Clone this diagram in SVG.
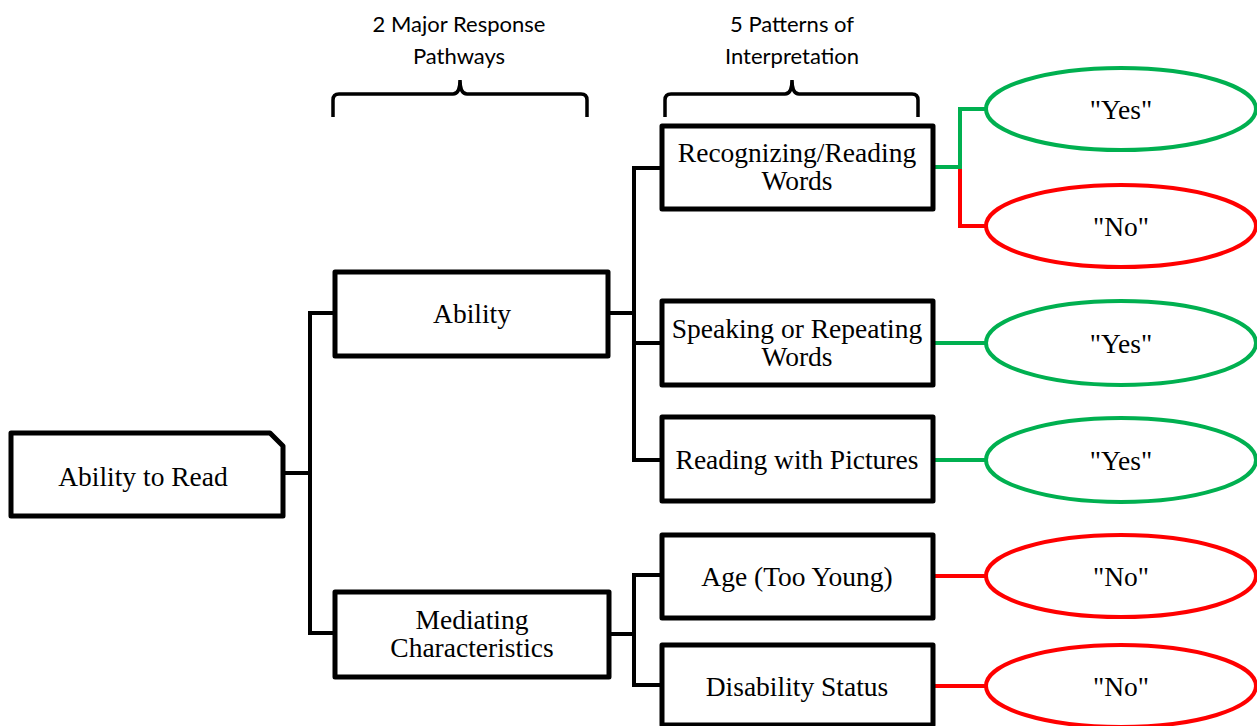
<svg xmlns="http://www.w3.org/2000/svg" width="1257" height="726" viewBox="0 0 1257 726">
<style>
.box{fill:#fff;stroke:#000;stroke-width:5;stroke-linejoin:round}
.t{font-family:"Liberation Serif","Times New Roman",serif;font-size:27.5px;fill:#000;text-anchor:middle}
.h{font-family:Lato,"Liberation Sans",sans-serif;font-size:22px;fill:#000;text-anchor:middle}
.k{fill:none;stroke:#000;stroke-width:4}
.g{fill:none;stroke:#00B050;stroke-width:4}
.r{fill:none;stroke:#FF0000;stroke-width:4}
.eg{fill:#fff;stroke:#00B050;stroke-width:4}
.er{fill:#fff;stroke:#FF0000;stroke-width:4}
.br{fill:none;stroke:#000;stroke-width:3.5}
</style>
<rect width="1257" height="726" fill="#fff"/>
<g id="headers">
<text class="h" x="459" y="32">2 Major Response</text>
<text class="h" x="459" y="64">Pathways</text>
<text class="h" x="792" y="32">5 Patterns of</text>
<text class="h" x="792" y="64">Interpretation</text>
<path class="br" d="M333,117 V100 Q333,94 339,94 H453 Q460,94 460,80 Q460,94 467,94 H581 Q587,94 587,100 V117"/>
<path class="br" d="M665,117 V100 Q665,94 671,94 H785 Q792,94 792,80 Q792,94 799,94 H912 Q918,94 918,100 V117"/>
</g>
<g id="connectors">
<path class="k" d="M283,473 H310"/>
<path class="k" d="M335,313 H310 V633 H335"/>
<path class="k" d="M608,313 H634"/>
<path class="k" d="M662,168 H634 V460 H662 M634,343 H662"/>
<path class="k" d="M609,634 H634"/>
<path class="k" d="M662,575 H634 V685 H662"/>
<path class="r" d="M960,167 V226 H986"/>
<path class="g" d="M933,167 H960 V109 H986"/>
<path class="g" d="M933,343 H986"/>
<path class="g" d="M933,460 H986"/>
<path class="r" d="M933,576 H986"/>
<path class="r" d="M933,686 H986"/>
</g>
<g id="root">
<path class="box" d="M11,433 H270 L283,446 V516 H11 Z"/>
<text class="t" x="143" y="486">Ability to Read</text>
</g>
<g id="ability">
<rect class="box" x="335" y="272" width="273" height="84"/>
<text class="t" x="472" y="323">Ability</text>
</g>
<g id="mediating">
<rect class="box" x="335" y="592" width="274" height="85"/>
<text class="t" x="472" y="629">Mediating</text>
<text class="t" x="472" y="657">Characteristics</text>
</g>
<g id="recognizing">
<rect class="box" x="662" y="126" width="271" height="83"/>
<text class="t" x="797" y="162">Recognizing/Reading</text>
<text class="t" x="797" y="190">Words</text>
</g>
<g id="speaking">
<rect class="box" x="662" y="301" width="271" height="84"/>
<text class="t" x="797" y="338">Speaking or Repeating</text>
<text class="t" x="797" y="366">Words</text>
</g>
<g id="pictures">
<rect class="box" x="662" y="417" width="271" height="84"/>
<text class="t" x="797" y="469">Reading with Pictures</text>
</g>
<g id="age">
<rect class="box" x="662" y="535" width="271" height="83"/>
<text class="t" x="797" y="586">Age (Too Young)</text>
</g>
<g id="disability">
<rect class="box" x="662" y="645" width="271" height="80"/>
<text class="t" x="797" y="696">Disability Status</text>
</g>
<g id="yes1">
<ellipse class="eg" cx="1121" cy="109" rx="135" ry="41"/>
<text class="t" x="1121" y="119">"Yes"</text>
</g>
<g id="no1">
<ellipse class="er" cx="1121" cy="226" rx="135" ry="41"/>
<text class="t" x="1121" y="236">"No"</text>
</g>
<g id="yes2">
<ellipse class="eg" cx="1121" cy="343" rx="135" ry="42"/>
<text class="t" x="1121" y="353">"Yes"</text>
</g>
<g id="yes3">
<ellipse class="eg" cx="1121" cy="460" rx="135" ry="42"/>
<text class="t" x="1121" y="470">"Yes"</text>
</g>
<g id="no2">
<ellipse class="er" cx="1121" cy="576" rx="135" ry="41"/>
<text class="t" x="1121" y="586">"No"</text>
</g>
<g id="no3">
<ellipse class="er" cx="1121" cy="686" rx="135" ry="41"/>
<text class="t" x="1121" y="696">"No"</text>
</g>
</svg>
